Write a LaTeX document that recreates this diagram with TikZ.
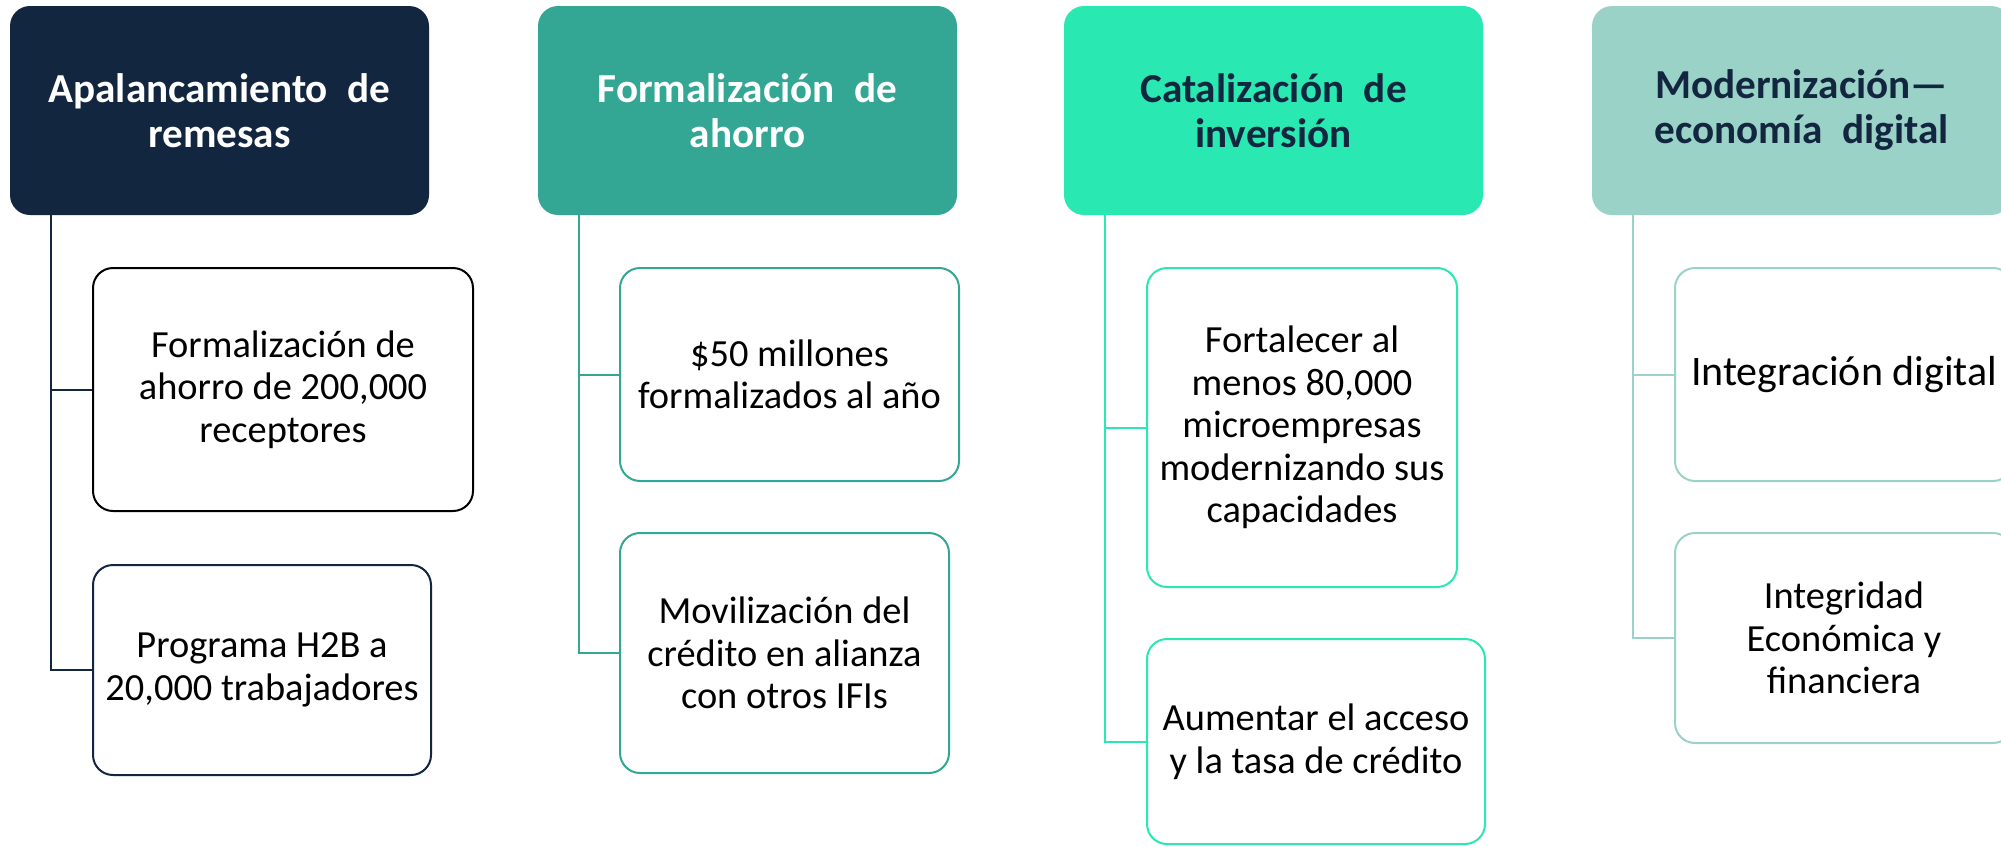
\documentclass[tikz,border=0pt]{standalone}
\usepackage{fontspec}
\setmainfont{Carlito}
\definecolor{navy}{HTML}{13263F}
\definecolor{teal}{HTML}{33A794}
\definecolor{mint}{HTML}{2AE8B1}
\definecolor{lightteal}{HTML}{9AD2C7}
\tikzset{
  head/.style={rounded corners=10pt, minimum width=209.5pt, minimum height=104.5pt, inner sep=0pt, align=center, font=\bfseries\fontsize{20.6}{22.5}\selectfont},
  kid/.style={draw, line width=1pt, rounded corners=10pt, fill=white, inner sep=0pt, align=center, font=\fontsize{19.2}{21.3}\selectfont},
  conn/.style={line width=1pt}
}
\begin{document}
\begin{tikzpicture}[x=0.5pt,y=-0.5pt]
\useasboundingbox (0,0) rectangle (2001,846);
\clip (0,0) rectangle (2001,846);
% headers
\node[head, fill=navy, text=white] (h1) at (219.5,110.5) {Apalancamiento\hspace{0.25em} de\\remesas};
\node[head, fill=teal, text=white] (h2) at (747.5,110.5) {Formalización\hspace{0.25em} de\\ahorro};
\node[head, fill=mint, text=navy] (h3) at (1273.5,110.5) {Catalización\hspace{0.25em} de\\inversión};
\node[head, fill=lightteal, text=navy] (h4) at (1801.5,110.5) {Modernización—\\economía\hspace{0.25em} digital};
% children
\node[kid, draw=black, minimum width=190pt, minimum height=121.5pt] (c11) at (283,389.5) {Formalización de\\ahorro de 200,000\\receptores};
\node[kid, draw=navy, minimum width=169pt, minimum height=105pt] (c12) at (262,670) {Programa H2B a\\20,000 trabajadores};
\node[kid, draw=teal, minimum width=169.5pt, minimum height=106.5pt] (c21) at (789.5,374.5) {\$50 millones\\formalizados al año};
\node[kid, draw=teal, minimum width=164.5pt, minimum height=120pt] (c22) at (784.5,653) {Movilización del\\crédito en alianza\\con otros IFIs};
\node[kid, draw=mint, minimum width=155pt, minimum height=159.5pt] (c31) at (1302,427.5) {Fortalecer al\\menos 80,000\\microempresas\\modernizando sus\\capacidades};
\node[kid, draw=mint, minimum width=169pt, minimum height=102.5pt] (c32) at (1316,741.5) {Aumentar el acceso\\y la tasa de crédito};
\node[kid, draw=lightteal, minimum width=169pt, minimum height=106.5pt, font=\fontsize{21}{23}\selectfont] (c41) at (1844,374.5) {Integración digital};
\node[kid, draw=lightteal, minimum width=169pt, minimum height=105pt] (c42) at (1844,638) {Integridad\\Económica y\\financiera};
% connectors
\draw[conn, navy] ([xshift=20.5pt]h1.south west) |- (c11.west);
\draw[conn, navy] ([xshift=20.5pt]h1.south west) |- (c12.west);
\draw[conn, teal] ([xshift=20.5pt]h2.south west) |- (c21.west);
\draw[conn, teal] ([xshift=20.5pt]h2.south west) |- (c22.west);
\draw[conn, mint] ([xshift=20.5pt]h3.south west) |- (c31.west);
\draw[conn, mint] ([xshift=20.5pt]h3.south west) |- (c32.west);
\draw[conn, lightteal] ([xshift=20.5pt]h4.south west) |- (c41.west);
\draw[conn, lightteal] ([xshift=20.5pt]h4.south west) |- (c42.west);
\end{tikzpicture}
\end{document}
